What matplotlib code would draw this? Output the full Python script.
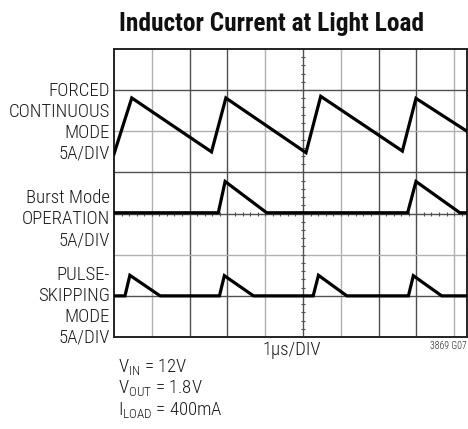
import numpy as np
import matplotlib
matplotlib.use('Agg')
import matplotlib.pyplot as plt
from matplotlib import font_manager

# scope traces in divisions (x: 1us/div, y: grid div)
forced_t = [0.0, 0.47, 2.58, 2.96, 5.08, 5.47, 7.63, 7.99, 9.34]
forced_i = [4.45, 5.81, 4.50, 5.81, 4.48, 5.85, 4.52, 5.80, 5.00]

burst_t = [0.0, 2.76, 2.94, 4.04, 7.77, 7.99, 9.15, 9.34]
burst_i = [3.02, 3.02, 3.78, 3.02, 3.02, 3.78, 3.02, 3.02]

pulse_t = [0.05, 0.29, 0.42, 1.22, 2.79, 2.92, 3.69, 5.27, 5.41, 6.16, 7.79, 7.92, 8.67, 9.34]
pulse_i = [1.0, 1.0, 1.5, 1.0, 1.0, 1.49, 1.0, 1.0, 1.5, 1.0, 1.0, 1.49, 1.0, 1.0]

forced_label = ['FORCED', 'CONTINUOUS', 'MODE', '5A/DIV']
burst_label = ['Burst Mode', 'OPERATION', '5A/DIV']
pulse_label = ['PULSE-', 'SKIPPING', 'MODE', '5A/DIV']
conditions = [r'$\mathrm{V_{IN}}$ = 12V', r'$\mathrm{V_{OUT}}$ = 1.8V', r'$\mathrm{I_{LOAD}}$ = 400mA']

# pick a condensed face that is actually installed
have = {f.name for f in font_manager.fontManager.ttflist}
cond = next((f for f in ['Roboto Condensed', 'Archivo Narrow', 'Sofia Sans Condensed'] if f in have), 'DejaVu Sans')

W, H = 468, 429
plt.rcParams['font.family'] = [cond, 'DejaVu Sans']
plt.rcParams['font.weight'] = 'light'
plt.rcParams['mathtext.fontset'] = 'custom'
plt.rcParams['mathtext.rm'] = cond + ':light'
plt.rcParams['mathtext.it'] = cond + ':light'

fig = plt.figure(figsize=(W / 100, H / 100), dpi=100)

def px(x, y):
    return x / W, 1 - y / H

ax = fig.add_axes([114 / W, 1 - 337 / H, 353 / W, 288 / H])
ax.set_xlim(0, 9.34)
ax.set_ylim(0, 7)
ax.set_xticks([])
ax.set_yticks([])
for s in ax.spines.values():
    s.set_linewidth(1.4)
    s.set_color('#222222')

# grid: some lines came out lighter on the scan
light_v = [1, 4, 6, 9]
for i in range(1, 10):
    ax.axvline(i, color='#b0b0b0' if i in light_v else '#505050', lw=1, zorder=1)
for j in range(1, 7):
    ax.axhline(j, color='#b0b0b0' if j in (2, 5) else '#505050', lw=1, zorder=1)

# minor ticks on centre lines
ax.vlines(np.arange(0.2, 9.34, 0.2), 2.95, 3.05, color='#505050', lw=0.8, zorder=1)
ax.hlines(np.arange(0.2, 7, 0.2), 4.94, 5.06, color='#505050', lw=0.8, zorder=1)

for t, i in [(forced_t, forced_i), (burst_t, burst_i), (pulse_t, pulse_i)]:
    ax.plot(t, i, color='black', lw=2.3, solid_joinstyle='miter', zorder=3)

fig.text(*px(271.5, 30.7), 'Inductor Current at Light Load', ha='center', va='baseline',
         fontsize=18.3, fontweight='bold', color='#111111')

tc = '#1a1a1a'
for lines, y0 in [(forced_label, 96), (burst_label, 203.4), (pulse_label, 280)]:
    for k, s in enumerate(lines):
        fig.text(*px(110, y0 + 21 * k), s, ha='right', va='baseline', fontsize=13.5, color=tc)

fig.text(*px(291.5, 355), '1\u00b5s/DIV', ha='center', va='baseline', fontsize=13.5, color=tc)
fig.text(*px(467, 349), '3869 G07', ha='right', va='baseline', fontsize=7, color=tc)

for k, s in enumerate(conditions):
    fig.text(*px(118, 371.7 + 21.5 * k), s, ha='left', va='baseline', fontsize=13.5, color=tc)

fig.savefig('out.png', dpi=100)
